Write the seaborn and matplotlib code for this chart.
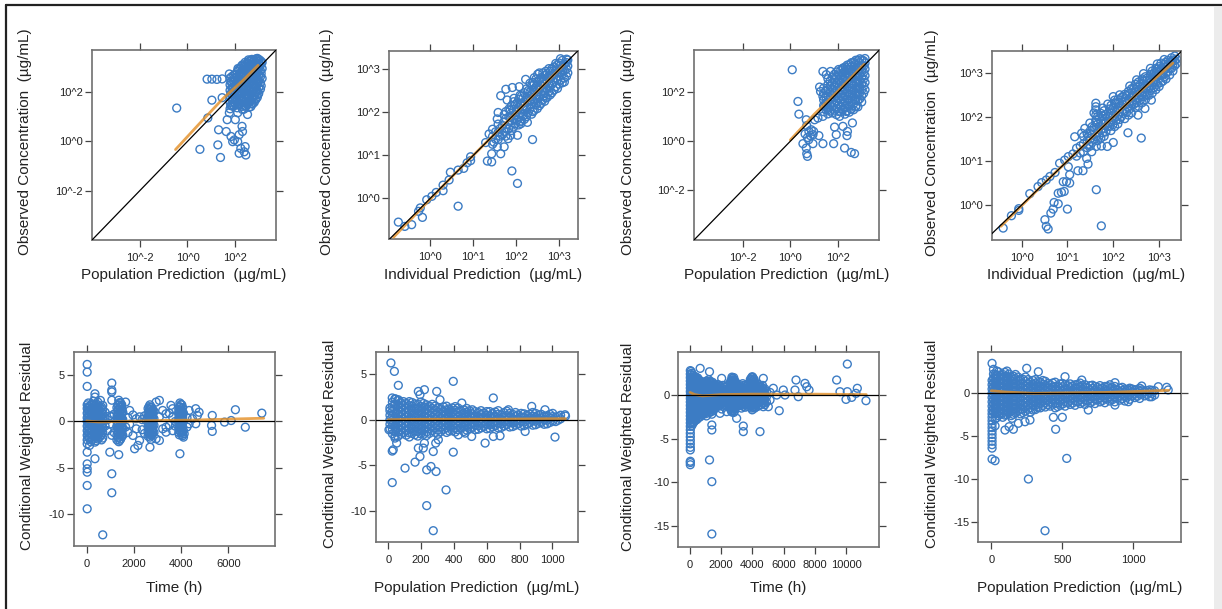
import numpy as np
import pandas as pd
import seaborn as sns
import matplotlib
matplotlib.use("Agg")
import matplotlib.pyplot as plt
from matplotlib.lines import Line2D
from matplotlib.patches import Rectangle
from matplotlib.ticker import NullLocator

# ---------------- data ----------------
# top row: log10 values, stored as (x, [y, ...]) columns
obs_vs_pred_A = [
    (-0.45, [1.35]), (0.52, [-0.32]), (0.82, [2.52]), (0.85, [0.95]),
    (1.02, [2.52, 1.67]), (1.23, [2.51]), (1.27, [-0.14]), (1.30, [0.47]), (1.38, [-0.65]),
    (1.45, [2.53, 1.77]), (1.62, [0.40]), (1.66, [0.88]), (1.75, [2.73, 1.16]), (1.82, [0.20]),
    (1.89, [-0.01, 1.43, 2.18]), (1.96, [0.06]), (2.00, [0.88]), (2.10, [-0.01, 1.16]),
    (2.16, [0.27, -0.48]), (2.23, [-0.28]), (2.28, [0.61]), (2.30, [0.40, 1.29]), (2.37, [-0.42]),
    (2.41, [-0.21]), (2.44, [-0.55, 1.43]), (2.51, [1.09]), (2.71, [1.73]),
    (1.78, [1.32, 1.58, 1.81, 2.07, 2.29, 2.56]),
    (1.81, [1.45, 1.93, 2.42]),
    (1.85, [1.45, 1.70, 1.94, 2.18, 2.42, 2.62]),
    (1.93, [1.47, 1.69, 1.96, 2.21, 2.44, 2.68]),
    (1.96, [1.58, 2.08, 2.57]),
    (2.00, [1.50, 1.74, 1.99, 2.24, 2.48, 2.72]),
    (2.08, [1.36, 1.62, 1.87, 2.12, 2.36, 2.61, 2.83]),
    (2.11, [1.50, 1.99, 2.50, 2.95]),
    (2.15, [1.48, 1.73, 1.98, 2.24, 2.48, 2.72, 2.92]),
    (2.22, [1.52, 1.74, 2.01, 2.24, 2.49, 2.73, 2.98]),
    (2.26, [1.62, 2.11, 2.61, 3.05]),
    (2.30, [1.42, 1.66, 1.92, 2.18, 2.42, 2.66, 2.90, 3.10]),
    (2.37, [1.31, 1.57, 1.79, 2.06, 2.31, 2.54, 2.79, 3.04]),
    (2.41, [1.43, 1.92, 2.42, 2.92, 3.20]),
    (2.44, [1.45, 1.70, 1.94, 2.18, 2.43, 2.68, 2.92, 3.12]),
    (2.51, [1.49, 1.76, 2.02, 2.27, 2.51, 2.76, 2.99, 3.18]),
    (2.55, [1.60, 2.10, 2.60, 3.05, 3.30]),
    (2.58, [1.38, 1.62, 1.88, 2.14, 2.38, 2.63, 2.88, 3.10, 3.25]),
    (2.65, [1.41, 1.64, 1.91, 2.14, 2.41, 2.66, 2.88, 3.12, 3.28]),
    (2.69, [1.52, 2.02, 2.52, 3.00, 3.32]),
    (2.72, [1.52, 1.78, 2.02, 2.28, 2.53, 2.78, 3.00, 3.22]),
    (2.79, [1.58, 1.84, 2.09, 2.33, 2.59, 2.84, 3.07, 3.30]),
    (2.83, [1.72, 2.22, 2.72, 3.20]),
    (2.86, [1.70, 1.96, 2.21, 2.46, 2.71, 2.95, 3.18, 3.34]),
    (2.92, [1.79, 2.04, 2.31, 2.56, 2.79, 3.03, 3.24, 3.36]),
    (2.95, [1.90, 2.40, 2.90, 3.30]),
    (2.98, [1.95, 2.20, 2.45, 2.70, 2.94, 3.16, 3.32]),
    (3.05, [2.12, 2.38, 2.62, 2.86, 3.08, 3.27]),
    (3.08, [2.25, 2.75, 3.18]),
    (3.12, [2.55, 2.95, 3.20]),
]

obs_vs_ipred_A = [
    (-0.74, [-0.55]), (-0.59, [-0.65]), (-0.43, [-0.61]), (-0.27, [-0.30]), (-0.23, [-0.22]),
    (-0.18, [-0.44]), (-0.08, [-0.03]), (0.04, [0.05]), (0.14, [0.14]), (0.30, [0.18, 0.31]),
    (0.44, [0.43]), (0.47, [0.61]), (0.65, [-0.18, 0.66]), (0.78, [0.70]), (0.86, [0.83]),
    (0.94, [0.88, 0.97]), (1.33, [0.87]), (1.43, [0.85, 1.04]), (1.29, [1.30]), (1.37, [1.50]),
    (1.48, [1.31]), (1.56, [1.20, 1.85]), (1.58, [2.00]), (1.64, [1.04, 2.39]), (1.72, [1.20]),
    (1.76, [2.54]), (1.79, [2.29]), (1.81, [1.39]), (1.87, [1.47]), (1.90, [0.64]), (1.91, [2.58]),
    (1.95, [2.33]), (2.03, [0.35, 1.47]), (2.07, [2.60]), (2.11, [1.74]), (2.15, [1.97]),
    (2.18, [2.08]), (2.22, [2.77]), (2.26, [1.77]), (2.38, [1.37]), (2.42, [2.81]),
    (2.50, [2.89, 2.23]), (2.65, [2.39]), (3.08, [2.96]), (3.12, [2.71]),
    (1.45, [1.26, 1.44, 1.61]), (1.52, [1.38, 1.55]), (1.58, [1.37, 1.54, 1.73]), (1.62, [1.45, 1.62]),
    (1.68, [1.48, 1.69]), (1.72, [1.56, 1.78, 1.95]),
    (1.76, [1.45, 1.63, 1.86, 2.02]), (1.83, [1.62, 1.90, 2.08]), (1.86, [1.70, 1.90, 2.05]),
    (1.89, [1.58, 1.81, 1.99, 2.16]), (1.94, [1.66, 1.86, 2.06, 2.25]),
    (1.98, [1.74, 1.95, 2.19]), (2.02, [1.82, 2.02, 2.22]), (2.06, [1.71, 1.90, 2.11, 2.31]),
    (2.09, [1.78, 1.98, 2.20, 2.40]), (2.12, [1.80, 2.00, 2.18, 2.38]), (2.16, [1.92, 2.14, 2.34]),
    (2.19, [1.84, 2.06, 2.24, 2.46]), (2.24, [1.90, 2.12, 2.34, 2.55]), (2.28, [2.00, 2.29, 2.51]),
    (2.32, [2.08, 2.28, 2.48, 2.68]), (2.36, [1.96, 2.19, 2.41, 2.62]), (2.39, [2.02, 2.30, 2.52, 2.70]),
    (2.42, [2.05, 2.26, 2.46, 2.66]), (2.46, [2.18, 2.40, 2.60, 2.78]), (2.49, [2.09, 2.31, 2.52, 2.71]),
    (2.54, [2.16, 2.36, 2.56, 2.76, 2.92]), (2.58, [2.21, 2.42, 2.61, 2.81]),
    (2.62, [2.30, 2.52, 2.72, 2.92]), (2.66, [2.26, 2.46, 2.66, 2.86]), (2.69, [2.34, 2.56, 2.76, 2.96]),
    (2.72, [2.35, 2.55, 2.73, 2.90]), (2.76, [2.48, 2.68, 2.86, 3.02]), (2.79, [2.41, 2.61, 2.79, 2.96]),
    (2.83, [2.46, 2.66, 2.84, 3.02]), (2.88, [2.52, 2.71, 2.90, 3.06]), (2.92, [2.60, 2.80, 2.98, 3.14]),
    (2.96, [2.56, 2.76, 2.94, 3.11]), (3.00, [2.66, 2.84, 3.00, 3.15]), (3.03, [2.75, 2.94, 3.10, 3.25]),
    (3.07, [2.69, 2.89, 3.06, 3.21]), (3.12, [2.80, 2.98, 3.12]), (3.17, [2.84, 3.01, 3.16, 3.24]),
    (3.20, [2.92, 3.08, 3.22]),
]

obs_vs_pred_B = [
    (0.08, [2.93]), (0.32, [1.63]), (0.36, [1.11]), (0.53, [-0.10]), (0.67, [0.88, -0.28]),
    (0.69, [0.64, -0.51]), (0.77, [0.06]), (0.78, [0.40]), (0.84, [0.23]), (0.88, [0.47]),
    (0.95, [0.27, -0.10]), (0.98, [0.40]), (1.02, [0.88]), (1.16, [0.95]), (1.20, [0.23]),
    (1.23, [2.22]), (1.27, [2.04]), (1.37, [-0.10, 1.02, 2.86, 1.84]), (1.44, [1.43]),
    (1.51, [2.73]), (1.58, [1.29]), (1.69, [2.86]), (1.82, [-0.10]), (1.86, [0.58]), (1.93, [0.27]),
    (2.07, [1.02]), (2.21, [0.61, 2.96]), (2.28, [-0.28]), (2.35, [1.22]), (2.38, [0.23]),
    (2.40, [0.40]), (2.56, [-0.46]), (2.61, [0.75]), (2.70, [-0.51, 1.70]), (2.75, [1.43]),
    (2.91, [2.18]), (0.72, [-0.62, 0.15]), (0.62, [0.30]),
    (1.40, [1.21, 1.46, 1.69, 1.96, 2.18]),
    (1.49, [1.30, 1.56, 1.82, 2.07]),
    (1.58, [1.12, 1.36, 1.61, 1.84, 2.11, 2.33, 2.56]),
    (1.67, [1.24, 1.49, 1.74, 1.99, 2.24, 2.46]),
    (1.76, [1.16, 1.41, 1.64, 1.91, 2.14, 2.39, 2.63]),
    (1.85, [1.27, 1.52, 1.78, 2.02, 2.27, 2.52, 2.74]),
    (1.94, [1.09, 1.34, 1.62, 1.86, 2.09, 2.36, 2.61, 2.84]),
    (2.03, [1.22, 1.48, 1.74, 1.98, 2.23, 2.48, 2.72, 2.94]),
    (2.12, [1.21, 1.44, 1.71, 1.94, 2.21, 2.44, 2.69, 2.91]),
    (2.21, [1.32, 1.58, 1.83, 2.08, 2.33, 2.57, 2.80, 3.00]),
    (2.30, [1.11, 1.36, 1.59, 1.86, 2.11, 2.34, 2.61, 2.86, 3.04]),
    (2.39, [1.24, 1.48, 1.73, 1.98, 2.23, 2.48, 2.73, 2.96, 3.12]),
    (2.48, [1.19, 1.46, 1.71, 1.94, 2.19, 2.46, 2.71, 2.94, 3.14]),
    (2.57, [1.32, 1.58, 1.83, 2.08, 2.33, 2.58, 2.83, 3.06, 3.22]),
    (2.66, [1.29, 1.54, 1.81, 2.06, 2.29, 2.56, 2.79, 3.04, 3.24]),
    (2.75, [1.42, 1.68, 1.93, 2.18, 2.43, 2.68, 2.93, 3.16, 3.32]),
    (2.84, [1.41, 1.66, 1.91, 2.16, 2.41, 2.66, 2.91, 3.11, 3.31]),
    (2.92, [1.74, 1.99, 2.24, 2.49, 2.74, 2.98, 3.22, 3.38]),
    (3.00, [1.61, 1.86, 2.11, 2.36, 2.61, 2.86, 3.09, 3.34]),
    (3.08, [1.96, 2.26, 2.55, 2.82, 3.08, 3.30]),
    (3.14, [2.11, 2.41, 2.69, 2.96, 3.21, 3.39]),
]

obs_vs_ipred_B = [
    (-0.40, [-0.52]), (-0.22, [-0.24]), (-0.06, [-0.12, -0.08]), (0.18, [0.26]), (0.36, [0.42]),
    (0.44, [0.51]), (0.51, [-0.33]), (0.54, [0.57, -0.48]), (0.58, [-0.54]), (0.62, [0.65]),
    (0.64, [-0.18]), (0.69, [-0.09]), (0.71, [0.06]), (0.73, [0.74]), (0.80, [0.03, 0.27]),
    (0.83, [0.95]), (0.87, [0.29]), (0.91, [0.53]), (0.93, [0.31]), (0.94, [1.02]), (0.98, [0.53]),
    (1.00, [-0.09]), (1.02, [1.10, 0.87]), (1.05, [0.50, 0.69]), (1.12, [1.16]), (1.16, [1.55]),
    (1.23, [0.78]), (1.31, [1.63]), (1.34, [0.78]), (1.38, [1.74]), (1.42, [1.06]), (1.45, [0.93]),
    (1.49, [1.86]), (1.53, [1.21]), (1.62, [2.31, 2.23, 2.16, 2.04, 1.93]), (1.63, [0.35, 1.33]),
    (1.74, [-0.47, 1.34]), (1.87, [1.33]), (2.00, [1.42, 2.46]), (2.03, [2.38]), (2.32, [1.64]),
    (2.54, [2.04]), (2.61, [1.52]), (2.69, [2.19]), (2.83, [2.38]),
    (1.20, [1.11, 1.29]), (1.28, [1.18, 1.34]), (1.35, [1.21, 1.39, 1.56]), (1.43, [1.30, 1.46, 1.62]),
    (1.46, [1.38, 1.56]), (1.50, [1.34, 1.51, 1.69]), (1.54, [1.42, 1.60, 1.78]),
    (1.58, [1.49, 1.76, 2.09]), (1.62, [1.55, 1.72, 1.88]), (1.66, [1.46, 1.64, 1.84, 2.01]),
    (1.69, [1.56, 1.76, 1.96]), (1.73, [1.52, 1.70, 1.90, 2.08]), (1.77, [1.64, 1.84, 2.02, 2.20]),
    (1.80, [1.56, 1.74, 1.94, 2.14]), (1.84, [1.66, 1.86, 2.06]), (1.88, [1.79, 2.01, 2.29]),
    (1.92, [1.78, 1.98, 2.18]), (1.95, [1.69, 1.89, 2.09, 2.26]), (1.99, [1.82, 2.02, 2.20]),
    (2.03, [1.78, 1.97, 2.15, 2.32]), (2.06, [1.92, 2.10, 2.30]), (2.10, [1.84, 2.04, 2.21, 2.39]),
    (2.14, [1.94, 2.12, 2.32, 2.50]), (2.18, [2.01, 2.24, 2.44]), (2.21, [2.08, 2.28, 2.46]),
    (2.25, [1.96, 2.14, 2.34, 2.51]), (2.29, [2.10, 2.30, 2.48]), (2.33, [2.04, 2.22, 2.40, 2.58]),
    (2.36, [2.18, 2.36, 2.54, 2.70]), (2.40, [2.09, 2.29, 2.46, 2.64]), (2.44, [2.28, 2.46, 2.64]),
    (2.48, [2.21, 2.39, 2.56, 2.74]), (2.51, [2.32, 2.50, 2.68, 2.84]), (2.55, [2.24, 2.44, 2.61, 2.79]),
    (2.59, [2.38, 2.56, 2.74]), (2.63, [2.32, 2.50, 2.68, 2.86]), (2.66, [2.46, 2.64, 2.82, 2.98]),
    (2.70, [2.39, 2.56, 2.74, 2.91]), (2.74, [2.50, 2.70, 2.88]), (2.78, [2.49, 2.66, 2.84]),
    (2.81, [2.60, 2.78, 2.96, 3.10]), (2.85, [2.54, 2.71, 2.89, 3.04]), (2.89, [2.66, 2.84, 3.00]),
    (2.93, [2.62, 2.79, 2.96, 3.10]), (2.96, [2.74, 2.92, 3.08, 3.20]), (3.00, [2.69, 2.86, 3.01, 3.14]),
    (3.04, [2.78, 2.94, 3.10, 3.22]), (3.08, [2.81, 2.96, 3.09]), (3.11, [2.90, 3.06, 3.20, 3.30]),
    (3.15, [2.86, 3.01, 3.14, 3.24]), (3.19, [3.02, 3.16, 3.28]), (3.23, [2.95, 3.10, 3.24]),
    (3.27, [3.10, 3.24, 3.34]), (3.30, [3.04, 3.19, 3.29]), (3.34, [3.16, 3.28, 3.38]),
    (3.38, [3.21, 3.31]),
]

# bottom row: CWRES columns (x, [cwres, ...])
cwres_vs_time_A = [
    (20, [-2.0, -1.5, -1.0, -0.5, 0.0, 0.4, 0.9, 1.4, 1.8, -2.42, -3.33, -4.6, -5.13, -5.5, -6.94, -9.47, 3.8, 5.35, 6.18]),
    (70, [-1.75, -1.25, -0.75, -0.25, 0.2, 0.65, 1.15, 1.6, 2.0]),
    (120, [-1.8, -1.3, -0.8, -0.3, 0.2, 0.7, 1.2, 1.6, -2.6]),
    (175, [-2.2, -1.7, -1.2, -0.7, -0.2, 0.3, 0.8, 1.3, 1.75]),
    (230, [-2.0, -1.5, -1.0, -0.5, 0.0, 0.5, 1.0, 1.5, 1.9]),
    (290, [-1.8, -1.3, -0.8, -0.3, 0.2, 0.7, 1.2, 1.6, 2.2]),
    (350, [-1.7, -1.2, -0.7, -0.2, 0.3, 0.8, 1.3, 1.7, -2.24, -4.04, 2.64, 3.0]),
    (410, [-2.1, -1.55, -1.05, -0.55, -0.05, 0.45, 0.95, 1.45, 1.9]),
    (470, [-1.9, -1.4, -0.9, -0.4, 0.1, 0.6, 1.1, 1.6, 2.1]),
    (525, [-1.75, -1.25, -0.75, -0.25, 0.25, 0.75, 1.2, 1.7]),
    (580, [-1.6, -1.1, -0.6, -0.1, 0.4, 0.9, 1.4, 2.28]),
    (630, [-2.0, -1.45, -0.95, -0.45, 0.05, 0.55, 1.05, 1.55]),
    (680, [-1.8, -1.2, -0.7, -0.2, 0.3, 0.8, 1.3, 1.74, -12.29]),
    (780, [-0.5, 0.4, 1.0]), (880, [-1.0, 0.2]), (980, [-3.33, 0.6, -0.3]),
    (1063, [4.16, 3.4, 3.2, 2.3, -5.67, -7.73, -1.5, 0.5]), (1160, [-1.2, 0.8]),
    (1280, [-2.0, -1.5, -1.0, -0.5, 0.0, 0.5, 1.0, 1.5]),
    (1320, [-1.75, -1.25, -0.75, -0.25, 0.25, 0.75, 1.25, 1.75]),
    (1357, [-3.6, -2.2, -1.7, -1.2, -0.7, -0.2, 0.3, 0.8, 1.3, 1.8, 2.3]),
    (1400, [-2.05, -1.45, -0.95, -0.45, 0.05, 0.55, 1.05, 1.55, 2.05]),
    (1440, [-1.9, -1.4, -0.9, -0.4, 0.1, 0.6, 1.1, 1.6, 2.0]),
    (1485, [-1.65, -1.15, -0.65, -0.15, 0.35, 0.85, 1.35, 1.8]),
    (1530, [-1.5, -0.8, 0.2, 1.0]),
    (1650, [2.1, -0.6]), (1750, [0.4, -1.2]), (1820, [1.19, -0.3]), (1960, [-1.52, 0.7]),
    (2030, [-2.96]), (2100, [-0.8, 0.3]), (2170, [-2.6]), (2240, [-2.06, 0.5]), (2350, [-0.9, 0.2]),
    (2450, [-1.3, 0.6]), (2520, [0.1]),
    (2600, [-1.6, -1.1, -0.6, -0.1, 0.4, 0.9, 1.4]),
    (2640, [-1.35, -0.85, -0.35, 0.15, 0.65, 1.15, 1.6]),
    (2680, [-2.79, -1.7, -1.2, -0.7, -0.2, 0.3, 0.8, 1.3, 1.8]),
    (2720, [-1.95, -1.45, -0.95, -0.45, 0.05, 0.55, 1.05, 1.55]),
    (2760, [-1.5, -1.0, -0.5, 0.0, 0.5, 1.0, 1.5]),
    (2800, [-1.25, -0.75, -0.25, 0.25, 0.75, 1.25]),
    (2850, [-1.2, -0.4, 0.3, 1.1]),
    (2940, [2.1, -1.88]), (3080, [2.28, -2.06, 0.5]), (3220, [1.19, -0.8]), (3360, [0.83, -0.62, -1.16]),
    (3500, [-0.43, 0.9]), (3570, [1.74]), (3640, [0.47, 1.38, -1.0]), (3750, [0.0, -0.5]),
    (3900, [-1.2, -0.7, -0.2, 0.3, 0.8, 1.3]),
    (3925, [-1.45, -0.95, -0.45, 0.05, 0.55, 1.05, 1.55]),
    (3950, [-3.5, -1.0, -0.4, 0.1, 0.6, 1.1, 1.6, 2.0]),
    (3990, [-1.2, -0.65, -0.15, 0.35, 0.85, 1.35, 1.85]),
    (4030, [-1.4, -0.9, -0.3, 0.2, 0.7, 1.2, 1.8]),
    (4065, [-1.55, -1.15, -0.6, -0.05, 0.45, 0.95, 1.5]),
    (4100, [-1.7, -1.0, 0.0, 0.9]), (4130, [-1.33]),
    (4250, [0.4, -0.6]), (4340, [1.19, -0.25]), (4480, [0.29]), (4620, [1.38, -0.25]), (4690, [0.65]),
    (4760, [1.0]), (5320, [0.65, -1.08]), (5290, [-0.43]), (5840, [-0.07]), (6120, [0.1]),
    (6300, [1.27]), (6720, [-0.62]), (7420, [0.9]),
]

cwres_vs_pred_A = [
    (10, [-1.0, -0.5, 0.0, 0.5, 1.0, 1.3]),
    (25, [-1.55, -1.05, -0.55, -0.05, 0.45, 0.95, 1.45, 1.95]),
    (40, [-1.8, -1.3, -0.8, -0.3, 0.2, 0.7, 1.2, 1.7, 2.3]),
    (58, [-1.85, -1.35, -0.85, -0.35, 0.15, 0.65, 1.15, 1.65, 2.1]),
    (75, [-1.6, -1.1, -0.6, -0.1, 0.4, 0.9, 1.4, 1.9]),
    (92, [-1.45, -0.95, -0.45, 0.05, 0.55, 1.05, 1.55, 2.0]),
    (110, [-1.7, -1.2, -0.7, -0.2, 0.3, 0.8, 1.3, 1.8]),
    (128, [-1.9, -1.45, -0.95, -0.45, 0.05, 0.55, 1.05, 1.55, 2.0]),
    (145, [-1.5, -1.0, -0.5, 0.0, 0.5, 1.0, 1.5, 1.9]),
    (162, [-1.65, -1.25, -0.75, -0.25, 0.25, 0.75, 1.25, 1.75]),
    (180, [-1.8, -1.3, -0.8, -0.3, 0.2, 0.7, 1.2, 1.7]),
    (198, [-1.55, -1.05, -0.55, -0.05, 0.45, 0.95, 1.45, 1.95]),
    (215, [-1.6, -1.1, -0.6, -0.1, 0.4, 0.9, 1.4, 1.8]),
    (232, [-1.75, -1.35, -0.85, -0.35, 0.15, 0.65, 1.15, 1.65]),
    (250, [-1.5, -1.0, -0.5, 0.0, 0.5, 1.0, 1.5]),
    (268, [-1.2, -0.75, -0.25, 0.25, 0.75, 1.25, 1.7]),
    (285, [-1.4, -0.9, -0.4, 0.1, 0.6, 1.1, 1.5]),
    (302, [-1.6, -1.15, -0.65, -0.15, 0.35, 0.85, 1.3]),
    (320, [-1.3, -0.8, -0.3, 0.2, 0.7, 1.2]),
    (338, [-1.05, -0.55, -0.05, 0.45, 0.95, 1.4]),
    (355, [-1.4, -0.9, -0.4, 0.1, 0.6, 1.1, 1.5]),
    (372, [-1.25, -0.75, -0.25, 0.25, 0.75, 1.2]),
    (390, [-1.2, -0.7, -0.2, 0.3, 0.8, 1.3]),
    (408, [-1.35, -0.95, -0.45, 0.05, 0.55, 1.05, 1.45]),
    (425, [-1.1, -0.6, -0.1, 0.4, 0.9, 1.3]),
    (442, [-0.95, -0.45, 0.05, 0.55, 1.0]),
    (460, [-1.3, -0.8, -0.3, 0.2, 0.7, 1.1]),
    (478, [-1.15, -0.65, -0.15, 0.35, 0.85, 1.25]),
    (495, [-1.0, -0.5, 0.0, 0.5, 1.0]),
    (512, [-0.85, -0.35, 0.15, 0.65, 1.1]),
    (530, [-1.1, -0.6, -0.1, 0.4, 0.9]),
    (548, [-1.05, -0.65, -0.15, 0.35, 0.8]),
    (565, [-0.9, -0.4, 0.1, 0.6, 1.0]),
    (582, [-0.75, -0.25, 0.25, 0.75]),
    (600, [-1.0, -0.5, 0.0, 0.5, 0.9]),
    (618, [-0.95, -0.55, -0.05, 0.45, 0.9]),
    (635, [-0.8, -0.3, 0.2, 0.7]),
    (652, [-0.65, -0.15, 0.35, 0.85]),
    (670, [-0.9, -0.4, 0.1, 0.6, 1.0]),
    (688, [-0.85, -0.45, 0.05, 0.55]),
    (705, [-0.7, -0.2, 0.3, 0.8]),
    (722, [-0.55, -0.05, 0.45, 0.95]),
    (740, [-0.8, -0.3, 0.2, 0.7]),
    (758, [-0.75, -0.35, 0.15, 0.6]),
    (775, [-0.6, -0.1, 0.4, 0.8]),
    (792, [-0.45, 0.05, 0.55]),
    (810, [-0.7, -0.2, 0.3, 0.7]),
    (828, [-0.65, -0.25, 0.25, 0.65]),
    (845, [-0.5, 0.0, 0.5]),
    (862, [-0.35, 0.15, 0.6]),
    (880, [-0.6, -0.1, 0.4, 0.8]),
    (898, [-0.55, -0.15, 0.3, 0.7]),
    (915, [-0.4, 0.1, 0.5]),
    (932, [-0.3, 0.2, 0.6]),
    (950, [-0.5, 0.0, 0.4]),
    (968, [-0.45, -0.05, 0.45]),
    (985, [-0.3, 0.2, 0.6]),
    (1002, [-0.15, 0.35, 0.7]),
    (1020, [-0.2, 0.3]), (1035, [-0.05, 0.35]), (1050, [0.1, 0.5]), (1080, [0.4]),
    (16, [6.26]), (37, [5.33]), (61, [3.79, 2.2]), (24, [2.4, -3.45, -6.92]), (45, [2.28]),
    (30, [-3.31]), (51, [-2.57]), (41, [-2.02]), (4, [-1.1]), (102, [-5.33]), (163, [-4.67]),
    (193, [-4.05, 2.76]), (183, [-3.12, 3.12]), (213, [-3.12]), (220, [-2.57, 3.31]), (295, [3.12]),
    (315, [2.2]), (234, [-5.52, -9.46]), (260, [-5.15]), (291, [-5.7]), (274, [-12.22, -3.5]),
    (352, [-7.73]), (396, [-3.57, 4.23]), (289, [-2.57]), (305, [-2.2]), (590, [-2.57]),
    (640, [2.4, -1.84]), (681, [-1.77]), (1016, [-1.91]), (834, [-1.29]), (874, [1.47]),
    (732, [1.1]), (1077, [0.55]), (955, [1.1]), (427, [-1.66]), (468, [-1.47]), (448, [1.84]),
    (508, [-1.84]),
]

cwres_vs_time_B = [
    (20, [-6.3, -6.0, -5.6, -5.2, -4.8, -4.4, -4.0, -3.6, -3.2, -2.8, -2.4, -2.0, -1.6, -1.2, -0.8,
          -0.4, 0.0, 0.4, 0.8, 1.2, 1.6, 2.0, 2.4, 2.8, -7.6, -7.75, -8.0]),
    (70, [-3.3, -2.75, -2.25, -1.75, -1.25, -0.75, -0.25, 0.25, 0.75, 1.25, 1.75, 2.25, 2.7]),
    (120, [-3.5, -3.0, -2.5, -2.0, -1.5, -1.0, -0.5, 0.0, 0.5, 1.0, 1.5, 2.0, 2.5]),
    (185, [-3.25, -2.75, -2.25, -1.75, -1.25, -0.75, -0.25, 0.25, 0.75, 1.25, 1.75, 2.2]),
    (250, [-3.1, -2.6, -2.1, -1.6, -1.1, -0.6, -0.1, 0.4, 0.9, 1.4, 1.9]),
    (300, [-2.85, -2.35, -1.85, -1.35, -0.85, -0.35, 0.15, 0.65, 1.15, 1.65, 2.1]),
    (350, [-2.9, -2.4, -1.9, -1.4, -0.9, -0.4, 0.1, 0.6, 1.1, 1.6, 2.1]),
    (400, [-2.5, -1.95, -1.45, -0.95, -0.45, 0.05, 0.55, 1.05, 1.55, 2.0]),
    (450, [-2.8, -2.2, -1.7, -1.2, -0.7, -0.2, 0.3, 0.8, 1.3, 1.8]),
    (500, [-2.3, -1.75, -1.15, -0.55, -0.05, 0.45, 0.95, 1.45, 1.95]),
    (550, [-2.6, -2.0, -1.4, -0.8, -0.3, 0.2, 0.7, 1.2, 1.7]),
    (600, [-2.25, -1.75, -1.25, -0.75, -0.25, 0.25, 0.75, 1.25, 1.7]),
    (650, [-2.5, -2.0, -1.5, -1.0, -0.5, 0.0, 0.5, 1.0, 1.5, 3.06]),
    (700, [-2.05, -1.55, -1.05, -0.55, -0.05, 0.45, 0.95, 1.45]),
    (750, [-2.3, -1.8, -1.3, -0.8, -0.3, 0.2, 0.7, 1.2]),
    (800, [-1.95, -1.45, -0.95, -0.45, 0.05, 0.55, 1.05, 1.5]),
    (850, [-2.2, -1.7, -1.2, -0.7, -0.2, 0.3, 0.8, 1.3]),
    (900, [-1.75, -1.25, -0.75, -0.25, 0.25, 0.75, 1.2]),
    (950, [-2.0, -1.5, -1.0, -0.5, 0.0, 0.5, 1.0, 1.4]),
    (1000, [-2.15, -1.65, -1.15, -0.65, -0.15, 0.35, 0.85, 1.35]),
    (1050, [-2.4, -1.9, -1.4, -0.9, -0.4, 0.1, 0.6, 1.1, 1.6]),
    (1100, [-1.55, -1.05, -0.55, -0.05, 0.45, 0.95, 1.5]),
    (1150, [-1.8, -1.2, -0.7, -0.2, 0.3, 0.8, 1.3]),
    (1200, [-1.75, -1.25, -0.75, -0.25, 0.25, 0.75, 1.25, 1.75]),
    (1250, [-2.0, -1.5, -1.0, -0.5, 0.0, 0.5, 1.0, 1.5, 2.67, -7.45]),
    (1320, [-1.95, -1.45, -0.95, -0.45, 0.05, 0.55, 1.05, 1.55]),
    (1400, [-2.2, -1.7, -1.2, -0.7, -0.2, 0.3, 0.8, 1.3, -4.01, -3.44, -9.94, -15.94]),
    (1450, [-1.55, -1.05, -0.55, -0.05, 0.45, 0.95, 1.45]),
    (1500, [-1.8, -1.3, -0.8, -0.3, 0.2, 0.7, 1.2]),
    (1550, [-1.25, -0.75, -0.25, 0.25, 0.75, 1.2]),
    (1600, [-1.5, -1.0, -0.5, 0.0, 0.5, 1.0]),
    (1650, [-1.35, -0.85, -0.35, 0.15, 0.65, 1.05]),
    (1700, [-1.2, -0.6, 0.0, 0.6, 1.1]),
    (1750, [-1.05, -0.55, -0.05, 0.45, 0.95]),
    (1800, [-1.3, -0.8, -0.3, 0.2, 0.7, 1.2]),
    (1900, [-1.15, -0.6, -0.05, 0.5, 1.0]),
    (1923, [-2.1]),
    (2030, [-1.6, -1.0, -0.4, 0.2, 0.8, 1.91]),
    (2100, [-1.3, -0.7, -0.1, 0.5, 1.1]),
    (2150, [-0.9, -0.3, 0.3, 0.9]),
    (2250, [-1.2, -0.6, 0.0, 0.6]),
    (2330, [-0.9, -0.3, 0.3, 0.9]),
    (2350, [-1.91]),
    (2400, [-1.3, -0.7, -0.1, 0.5, 1.1]),
    (2500, [-1.0, -0.4, 0.2, 0.8]),
    (2580, [-1.55, -1.05, -0.55, -0.05, 0.45, 0.95, 1.45]),
    (2650, [-1.8, -1.3, -0.8, -0.3, 0.2, 0.7, 1.2, 1.7]),
    (2690, [-1.95, -1.45, -0.95, -0.45, 0.05, 0.55, 1.05, 1.55, 2.05]),
    (2720, [-1.6, -1.1, -0.6, -0.1, 0.4, 0.9, 1.4, 1.9]),
    (2760, [-1.75, -1.25, -0.75, -0.25, 0.25, 0.75, 1.25, 1.75]),
    (2800, [-2.0, -1.5, -1.0, -0.5, 0.0, 0.5, 1.0, 1.5, 2.0]),
    (2850, [-1.85, -1.25, -0.65, -0.05, 0.55, 1.15, 1.7]),
    (2900, [-1.5, -0.9, -0.3, 0.3, 0.9, 1.5]),
    (2950, [-1.4, -0.85, -0.3, 0.3, 0.85, 1.4]),
    (2990, [-2.67, -1.2, -0.6, 0.0, 0.6, 1.2]),
    (3050, [-0.9, -0.3, 0.3, 0.8]),
    (3100, [-1.2, -0.6, 0.0, 0.6, 1.0]),
    (3200, [-1.0, -0.4, 0.2, 0.8]),
    (3250, [-1.2, -0.65, -0.1, 0.5, 1.05]),
    (3300, [-1.5, -0.9, -0.3, 0.3, 0.9]),
    (3380, [-1.0, -0.4, 0.2, 0.8, 1.3]),
    (3417, [-3.56, -4.2, -1.3, -0.7, -0.1, 0.5, 1.1]),
    (3500, [-1.1, -0.5, 0.1, 0.7]),
    (3550, [-1.4, -0.8, -0.2, 0.4, 0.95]),
    (3600, [-1.0, -0.4, 0.2, 0.8]),
    (3650, [-0.7, -0.1, 0.5]),
    (3700, [-1.3, -0.7, -0.1, 0.5, 1.1]),
    (3750, [-1.05, -0.45, 0.15, 0.75, 1.3]),
    (3800, [-0.8, -0.2, 0.4, 1.0]),
    (3870, [-1.2, -0.6, 0.0, 0.6, 1.2, 1.8]),
    (3910, [-1.25, -0.75, -0.25, 0.25, 0.75, 1.25, 1.75]),
    (3950, [-1.5, -1.0, -0.5, 0.0, 0.5, 1.0, 1.5, 2.0]),
    (3990, [-1.7, -1.2, -0.7, -0.2, 0.3, 0.8, 1.3, 1.8, 2.1]),
    (4030, [-1.4, -0.9, -0.4, 0.1, 0.6, 1.1, 1.6, 2.0]),
    (4070, [-1.05, -0.55, -0.05, 0.45, 0.95, 1.45]),
    (4100, [-1.3, -0.8, -0.3, 0.2, 0.7, 1.2, 1.8]),
    (4150, [-1.5, -1.0, -0.5, 0.0, 0.5, 1.0, 1.5]),
    (4200, [-1.1, -0.5, 0.1, 0.7, 1.3]),
    (4250, [-0.75, -0.15, 0.45, 1.05]),
    (4300, [-1.0, -0.4, 0.2, 0.8]),
    (4350, [-1.3, -0.7, -0.1, 0.5, 1.0]),
    (4400, [-1.2, -0.6, 0.0, 0.6, 1.2]),
    (4450, [-0.5, 0.1, 0.7]),
    (4487, [-4.2, -0.8, -0.2, 0.4, 1.0]),
    (4550, [-1.1, -0.5, 0.1, 0.6]),
    (4600, [-0.9, -0.3, 0.3, 0.9]),
    (4650, [-0.6, 0.0, 0.5, 1.1]),
    (4700, [-1.34, -0.6, 0.0, 0.6, 1.91]),
    (4750, [-0.9, -0.3, 0.3]),
    (4800, [-1.1, -0.5, 0.1, 0.7]),
    (4900, [-0.8, -0.2, 0.4]), (5020, [-1.34]), (5130, [-0.57, 0.3]), (5340, [0.77]),
    (5560, [0.0]), (5720, [-1.8]), (5980, [0.57]), (6090, [0.0]), (6730, [0.57]), (6795, [1.72]),
    (6940, [-0.19]), (7370, [1.34]), (7480, [0.95]), (7630, [0.57]), (9400, [1.72]), (9615, [0.38]),
    (10085, [3.55, 0.38]), (10000, [-0.5]), (10365, [-0.27]), (10640, [0.19]), (10725, [0.77]),
    (11280, [-0.65]),
]

cwres_vs_pred_B = [
    (5, [-6.4, -6.0, -5.6, -5.2, -4.8, -4.4, -4.0, -3.6, -3.2, -2.8, -2.4, -2.0, -1.5, -1.0, -0.5,
         0.0, 0.5, 1.0, 1.5, 3.5, -7.68]),
    (15, [-2.2, -1.75, -1.25, -0.75, -0.25, 0.25, 0.75, 1.25, 1.75, 2.25, 2.8]),
    (26, [-7.87, -3.8, -3.0, -2.3, -1.8, -1.3, -0.8, -0.3, 0.2, 0.7, 1.2, 1.7, 2.2]),
    (38, [-2.85, -2.35, -1.85, -1.35, -0.85, -0.35, 0.15, 0.65, 1.15, 1.65, 2.15, 2.6]),
    (50, [-2.6, -2.1, -1.6, -1.1, -0.6, -0.1, 0.4, 0.9, 1.4, 1.9, 2.5]),
    (65, [-2.4, -1.85, -1.35, -0.85, -0.35, 0.15, 0.65, 1.15, 1.65, 2.15]),
    (80, [-2.8, -2.3, -1.8, -1.3, -0.8, -0.3, 0.2, 0.7, 1.2, 1.7, 2.2]),
    (95, [-2.55, -2.05, -1.55, -1.05, -0.55, -0.05, 0.45, 0.95, 1.45, 1.95, 2.45]),
    (110, [-2.5, -2.0, -1.5, -1.0, -0.5, 0.0, 0.5, 1.0, 1.5, 2.0, 2.6]),
    (125, [-2.25, -1.75, -1.25, -0.75, -0.25, 0.25, 0.75, 1.25, 1.75, 2.25]),
    (140, [-2.6, -2.1, -1.6, -1.1, -0.6, -0.1, 0.4, 0.9, 1.4, 1.9]),
    (155, [-2.45, -1.85, -1.35, -0.85, -0.35, 0.15, 0.65, 1.15, 1.65, 2.0]),
    (170, [-2.3, -1.8, -1.3, -0.8, -0.3, 0.2, 0.7, 1.2, 1.7, 2.2]),
    (188, [-2.05, -1.55, -1.05, -0.55, -0.05, 0.45, 0.95, 1.45, 1.9]),
    (205, [-2.4, -1.9, -1.4, -0.9, -0.4, 0.1, 0.6, 1.1, 1.6]),
    (222, [-2.25, -1.85, -1.35, -0.85, -0.35, 0.15, 0.65, 1.15, 1.65]),
    (240, [-2.1, -1.6, -1.1, -0.6, -0.1, 0.4, 0.9, 1.4, 1.9]),
    (258, [-1.85, -1.35, -0.85, -0.35, 0.15, 0.65, 1.15, 1.6]),
    (275, [-2.2, -1.7, -1.2, -0.7, -0.2, 0.3, 0.8, 1.3]),
    (292, [-1.95, -1.45, -0.95, -0.45, 0.05, 0.55, 1.05, 1.5]),
    (310, [-1.9, -1.4, -0.9, -0.4, 0.1, 0.6, 1.1, 1.6]),
    (328, [-1.65, -1.15, -0.65, -0.15, 0.35, 0.85, 1.35]),
    (345, [-1.7, -1.2, -0.7, -0.2, 0.3, 0.8, 1.3]),
    (362, [-1.45, -0.95, -0.45, 0.05, 0.55, 1.05, 1.5]),
    (380, [-1.6, -1.1, -0.6, -0.1, 0.4, 0.9, 1.4]),
    (398, [-1.35, -0.85, -0.35, 0.15, 0.65, 1.15]),
    (415, [-1.5, -1.0, -0.5, 0.0, 0.5, 1.0]),
    (432, [-1.25, -0.75, -0.25, 0.25, 0.75, 1.2]),
    (450, [-1.7, -1.2, -0.7, -0.2, 0.3, 0.8, 1.3]),
    (468, [-1.55, -1.15, -0.65, -0.15, 0.35, 0.85]),
    (485, [-1.4, -0.9, -0.4, 0.1, 0.6, 1.1]),
    (502, [-1.25, -0.75, -0.25, 0.25, 0.75, 1.15]),
    (520, [-1.5, -1.0, -0.5, 0.0, 0.5, 1.0]),
    (538, [-1.05, -0.55, -0.05, 0.45, 0.9]),
    (555, [-1.3, -0.8, -0.3, 0.2, 0.7, 1.1]),
    (572, [-1.15, -0.65, -0.15, 0.35, 0.85]),
    (590, [-1.4, -0.9, -0.4, 0.1, 0.6, 1.0]),
    (608, [-0.95, -0.45, 0.05, 0.55, 1.05]),
    (625, [-1.2, -0.7, -0.2, 0.3, 0.8, 1.2]),
    (642, [-1.05, -0.55, -0.05, 0.45, 0.9]),
    (660, [-1.3, -0.8, -0.3, 0.2, 0.7, 1.0]),
    (678, [-0.85, -0.35, 0.15, 0.65]),
    (695, [-1.1, -0.6, -0.1, 0.4, 0.9]),
    (712, [-0.95, -0.45, 0.05, 0.55, 0.95]),
    (730, [-1.2, -0.7, -0.2, 0.3, 0.8]),
    (748, [-0.75, -0.25, 0.25, 0.7]),
    (765, [-1.0, -0.5, 0.0, 0.5, 0.9]),
    (782, [-0.85, -0.35, 0.15, 0.6]),
    (800, [-1.1, -0.6, -0.1, 0.4, 0.8]),
    (818, [-0.65, -0.15, 0.35, 0.8]),
    (835, [-0.9, -0.4, 0.1, 0.6, 1.0]),
    (852, [-0.75, -0.25, 0.25, 0.65]),
    (870, [-1.0, -0.5, 0.0, 0.5, 0.8]),
    (888, [-0.55, -0.05, 0.4]),
    (905, [-0.8, -0.3, 0.2, 0.6]),
    (922, [-0.65, -0.15, 0.3, 0.7]),
    (940, [-0.9, -0.4, 0.1, 0.5]),
    (958, [-0.45, 0.05, 0.45]),
    (975, [-0.7, -0.2, 0.3, 0.6]),
    (992, [-0.3, 0.15, 0.5]),
    (1010, [-0.5, 0.0, 0.4]), (1028, [-0.35, 0.1, 0.45]), (1045, [-0.6, -0.1, 0.3, 0.6]),
    (1062, [-0.1, 0.4]), (1080, [-0.3, 0.2]), (1098, [-0.15, 0.3]),
    (1115, [-0.4, 0.1, 0.4]), (1132, [0.0, 0.35]), (1150, [-0.2, 0.3]),
    (378, [-16.05]), (261, [-10.01]), (531, [-7.6]), (453, [-4.2]), (437, [-2.8]), (500, [-2.8]),
    (96, [-4.29]), (125, [-3.9]), (155, [-4.2]), (190, [-3.5]), (237, [-3.32]), (272, [-3.12]),
    (146, [-2.92]), (249, [2.92]), (331, [2.52]), (519, [1.94]), (683, [-1.95]), (871, [-1.37, 1.24]),
    (965, [-0.98]), (1130, [-0.4]), (1235, [0.7]), (1246, [0.39]), (1176, [0.77]), (1059, [0.85]),
    (637, [1.55]),
]

# smooth (loess) lines
smooth_pred_A_x = [-0.50, 0.50, 1.50, 2.30, 2.95]
smooth_pred_A_y = [-0.33, 0.72, 1.75, 2.45, 3.08]
smooth_ipred_A_x = [-0.85, 0.50, 1.50, 2.50, 3.10]
smooth_ipred_A_y = [-0.90, 0.50, 1.50, 2.50, 3.10]
smooth_pred_B_x = [0.00, 1.00, 2.00, 3.10]
smooth_pred_B_y = [0.05, 1.10, 2.05, 3.15]
smooth_ipred_B_x = [-0.45, 0.50, 1.50, 2.50, 3.30]
smooth_ipred_B_y = [-0.48, 0.50, 1.50, 2.50, 3.22]
smooth_time_A_x = [0, 500, 1500, 3000, 4500, 6000, 7500]
smooth_time_A_y = [0.05, -0.05, 0.0, 0.1, 0.15, 0.25, 0.35]
smooth_cpred_A_x = [0, 200, 400, 600, 800, 1080]
smooth_cpred_A_y = [0.0, 0.05, 0.05, 0.05, 0.08, 0.12]
smooth_time_B_x = [0, 300, 800, 2000, 4000, 6000, 8000, 11300]
smooth_time_B_y = [0.3, 0.05, -0.1, 0.05, 0.1, 0.1, 0.1, 0.05]
smooth_cpred_B_x = [0, 100, 300, 500, 800, 1000, 1250]
smooth_cpred_B_y = [0.3, 0.15, 0.0, 0.05, 0.1, 0.2, 0.35]

log_ticks_wide = [1e-2, 1e0, 1e2]
log_labels_wide = ["10^-2", "10^0", "10^2"]
log_ticks_narrow = [1e0, 1e1, 1e2, 1e3]
log_labels_narrow = ["10^0", "10^1", "10^2", "10^3"]

OBS_LABEL = "Observed Concentration  (\u00b5g/mL)"
PRED_LABEL = "Population Prediction  (\u00b5g/mL)"
IPRED_LABEL = "Individual Prediction  (\u00b5g/mL)"
CWRES_LABEL = "Conditional Weighted Residual"
TIME_LABEL = "Time (h)"

# ---------------- styling ----------------
sns.set_theme(style="white")
plt.rcParams["font.family"] = ["Liberation Sans", "DejaVu Sans"]

PT_COL = "#3c7cc4"
SM_COL = "#e48f25"
W, H = 1222, 609

fig = plt.figure(figsize=(W / 100, H / 100), dpi=100)


def rect(l, r, t, b):
    return [l / W, 1 - b / H, (r - l) / W, (b - t) / H]


def expand(cols, log=False):
    xs, ys = [], []
    for x, yl in cols:
        for y in yl:
            xs.append(x)
            ys.append(y)
    xs = np.array(xs, float)
    ys = np.array(ys, float)
    if log:
        xs, ys = 10 ** xs, 10 ** ys
    return pd.DataFrame({"x": xs, "y": ys})


def style(ax, box, xlabel, ylabel, ylab_x):
    for sp in ax.spines.values():
        sp.set_visible(True)
        sp.set_color("#707070")
        sp.set_linewidth(1.2)
    ax.tick_params(direction="out", length=5, width=0.9, color="#444444",
                   top=True, right=True, bottom=True, left=True,
                   labeltop=False, labelright=False, labelsize=8,
                   labelcolor="#222222")
    ax.tick_params(axis="x", pad=4.5)
    ax.tick_params(axis="y", pad=1.5)
    ax.set_xlabel("")
    ax.set_ylabel("")
    l, r, t, b = box
    xlab_y = 275 if t < 200 else 588
    fig.text(((l + r) / 2) / W, 1 - xlab_y / H, xlabel, ha="center", va="center",
             fontsize=11, color="#222222")
    fig.text(ylab_x / W, 1 - ((t + b) / 2 - 3) / H, ylabel, ha="center", va="center",
             rotation=90, fontsize=11, color="#222222")


def scatter(ax, df):
    sns.scatterplot(data=df, x="x", y="y", ax=ax, s=32, color=PT_COL, linewidth=1.0,
                    legend=False, zorder=2)
    coll = ax.collections[-1]
    coll.set_facecolor("none")
    coll.set_edgecolor(PT_COL)


def smooth(ax, xs, ys, log=False):
    xs = np.array(xs, float)
    ys = np.array(ys, float)
    if log:
        xs, ys = 10 ** xs, 10 ** ys
    sns.lineplot(x=xs, y=ys, ax=ax, color=SM_COL, lw=2.0, alpha=0.8,
                 estimator=None, sort=False, zorder=3)


top_panels = [
    (obs_vs_pred_A, (92, 276, 50, 240), (-3.99, 3.70), (-3.99, 3.70), log_ticks_wide, log_labels_wide,
     PRED_LABEL, 25, smooth_pred_A_x, smooth_pred_A_y),
    (obs_vs_ipred_A, (389.3, 577.7, 51, 239.3), (-0.95, 3.43), (-0.95, 3.43), log_ticks_narrow,
     log_labels_narrow, IPRED_LABEL, 327, smooth_ipred_A_x, smooth_ipred_A_y),
    (obs_vs_pred_B, (694, 879.3, 50, 240), (-4.05, 3.74), (-4.05, 3.74), log_ticks_wide, log_labels_wide,
     PRED_LABEL, 628, smooth_pred_B_x, smooth_pred_B_y),
    (obs_vs_ipred_B, (991.7, 1180.7, 50.7, 240), (-0.65, 3.47), (-0.79, 3.50), log_ticks_narrow,
     log_labels_narrow, IPRED_LABEL, 932, smooth_ipred_B_x, smooth_ipred_B_y),
]

for cols, box, xl, yl, ticks, labels, xlabel, ylx, sx, sy in top_panels:
    ax = fig.add_axes(rect(*box))
    ax.set_xscale("log")
    ax.set_yscale("log")
    ax.set_xlim(10 ** xl[0], 10 ** xl[1])
    ax.set_ylim(10 ** yl[0], 10 ** yl[1])
    scatter(ax, expand(cols, log=True))
    idl = np.array([1e-6, 1e6])
    sns.lineplot(x=idl, y=idl, ax=ax, color="black", lw=0.9, estimator=None, sort=False, zorder=4)
    smooth(ax, sx, sy, log=True)
    ax.set_xlim(10 ** xl[0], 10 ** xl[1])
    ax.set_ylim(10 ** yl[0], 10 ** yl[1])
    ax.set_xticks(ticks)
    ax.set_xticklabels(labels)
    ax.set_yticks(ticks)
    ax.set_yticklabels(labels)
    ax.xaxis.set_minor_locator(NullLocator())
    ax.yaxis.set_minor_locator(NullLocator())
    style(ax, box, xlabel, OBS_LABEL, ylx)

bottom_panels = [
    (cwres_vs_time_A, (74, 275.3, 351.7, 546), (-538, 7991), (-13.5, 7.56), [0, 2000, 4000, 6000],
     [-10, -5, 0, 5], TIME_LABEL, 27, smooth_time_A_x, smooth_time_A_y),
    (cwres_vs_pred_A, (376, 578.3, 352.3, 542.3), (-75, 1158), (-13.5, 7.43),
     [0, 200, 400, 600, 800, 1000], [-10, -5, 0, 5], PRED_LABEL, 330, smooth_cpred_A_x, smooth_cpred_A_y),
    (cwres_vs_time_B, (678.3, 878.7, 352.3, 546.7), (-750, 12096), (-17.4, 4.9),
     [0, 2000, 4000, 6000, 8000, 10000], [-15, -10, -5, 0], TIME_LABEL, 628, smooth_time_B_x, smooth_time_B_y),
    (cwres_vs_pred_B, (978.3, 1180.7, 352.3, 542.3), (-92, 1334), (-17.4, 4.79), [0, 500, 1000],
     [-15, -10, -5, 0], PRED_LABEL, 932, smooth_cpred_B_x, smooth_cpred_B_y),
]

for cols, box, xl, yl, xt, yt, xlabel, ylx, sx, sy in bottom_panels:
    ax = fig.add_axes(rect(*box))
    scatter(ax, expand(cols))
    ax.axhline(0, color="black", lw=0.9, zorder=4)
    smooth(ax, sx, sy)
    ax.set_xlim(*xl)
    ax.set_ylim(*yl)
    ax.set_xticks(xt)
    ax.set_xticklabels([str(v) for v in xt])
    ax.set_yticks(yt)
    ax.set_yticklabels([str(v) for v in yt])
    style(ax, box, xlabel, CWRES_LABEL, ylx)

# outer frame of the screenshot
fig.add_artist(Line2D([6 / W, 6 / W], [0, 1 - 5 / H], color="#222222", lw=1.6))
fig.add_artist(Line2D([6 / W, 1], [1 - 5 / H, 1 - 5 / H], color="#222222", lw=1.6))
fig.add_artist(Rectangle((1214 / W, 0), 8 / W, 1 - 7 / H, transform=fig.transFigure,
                         facecolor="#ececec", edgecolor="none"))

fig.savefig("out.png", dpi=100)
